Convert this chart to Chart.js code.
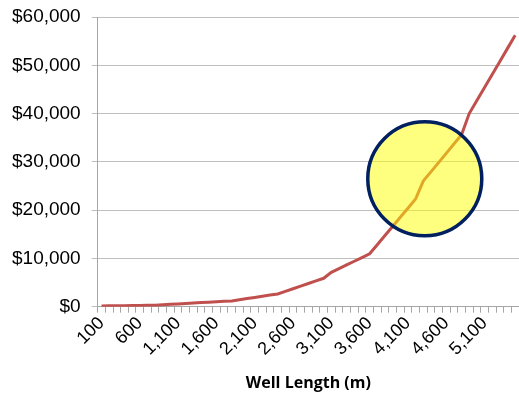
<!DOCTYPE html>
<html>
<head>
<meta charset="utf-8">
<script src="https://cdn.jsdelivr.net/npm/chart.js@4.4.0/dist/chart.umd.min.js"></script>
<style>
    html, body { margin: 0; padding: 0; background: #fff; }
    #wrap { width: 519px; height: 396px; position: relative; }
</style>
</head>
<body>
<div id="wrap"><canvas id="costChart"></canvas></div>
<script>
// well length categories (m)
const wellLengths = [
    100, 200, 300, 400, 500, 600, 700, 800, 900, 1000,
    1100, 1200, 1300, 1400, 1500, 1600, 1700, 1800, 1900, 2000,
    2100, 2200, 2300, 2400, 2500, 2600, 2700, 2800, 2900, 3000,
    3100, 3200, 3300, 3400, 3500, 3600, 3700, 3800, 3900, 4000,
    4100, 4200, 4300, 4400, 4500, 4600, 4700, 4800, 4900, 5000,
    5100, 5200, 5300, 5400, 5500
];

// cost ($)
const costs = [
    150, 170, 190, 210, 230, 250, 270, 300, 390, 480,
    570, 660, 750, 840, 930, 1020, 1110, 1200, 1440, 1680,
    1920, 2160, 2400, 2640, 3180, 3720, 4260, 4800, 5340, 5880,
    7100, 7870, 8640, 9410, 10180, 10950, 12840, 14730, 16620, 18510,
    20400, 22290, 26000, 27920, 29840, 31760, 33680, 35600, 40000, 42700,
    45400, 48100, 50800, 53500, 56200
];

const yTicks = [0, 10000, 20000, 30000, 40000, 50000, 60000];

// highlight circle (in data units + pixel radius)
const highlightIndex = 42.2;
const highlightValue = 26500;

const highlightPlugin = {
    id: 'highlight',
    afterDatasetsDraw(chart) {
        const ctx = chart.ctx;
        const cx = chart.scales.x.getPixelForValue(highlightIndex);
        const cy = chart.scales.y.getPixelForValue(highlightValue);
        ctx.save();
        ctx.beginPath();
        ctx.arc(cx, cy, 57, 0, Math.PI * 2);
        ctx.fillStyle = 'rgba(255, 255, 0, 0.5)';
        ctx.fill();
        ctx.lineWidth = 3.5;
        ctx.strokeStyle = '#002060';
        ctx.stroke();
        ctx.restore();
    }
};

const ctx = document.getElementById('costChart').getContext('2d');
new Chart(ctx, {
    type: 'line',
    data: {
        labels: wellLengths,
        datasets: [{
            data: costs,
            borderColor: '#C0504D',
            borderWidth: 3,
            pointRadius: 0,
            tension: 0,
            fill: false
        }]
    },
    options: {
        responsive: true,
        maintainAspectRatio: false,
        animation: false,
        layout: { padding: { left: 1, right: 0, top: 0, bottom: 3 } },
        plugins: {
            legend: { display: false },
            tooltip: { enabled: false }
        },
        scales: {
            x: {
                offset: true,
                afterFit: function(scale) {
                    // no room needed for the empty last label
                    scale.paddingRight = 0;
                },
                grid: {
                    offset: true,
                    drawOnChartArea: false,
                    drawTicks: true,
                    tickLength: 6,
                    color: '#A6A6A6'
                },
                border: { color: '#A6A6A6' },
                ticks: {
                    autoSkip: false,
                    maxRotation: 45,
                    minRotation: 45,
                    padding: 0,
                    color: '#000',
                    font: { family: 'Liberation Sans', size: 18 },
                    callback: function(value, index) {
                        return index % 5 === 0 ? wellLengths[index].toLocaleString('en-US') : '';
                    }
                },
                title: {
                    display: true,
                    text: 'Well Length (m)',
                    color: '#000',
                    font: { family: 'Open Sans', size: 16, weight: 'bold' },
                    padding: { top: 14, bottom: 0 }
                }
            },
            y: {
                min: 0,
                max: 60000,
                afterFit: function(scale) {
                    scale.paddingTop = 17;
                },
                afterBuildTicks: function(axis) {
                    axis.ticks = yTicks.map(v => ({ value: v }));
                },
                grid: {
                    color: '#BFBFBF',
                    lineWidth: 1,
                    drawTicks: true,
                    tickLength: 6
                },
                border: { color: '#A6A6A6' },
                ticks: {
                    padding: 11,
                    color: '#000',
                    font: { family: 'Liberation Sans', size: 19 },
                    callback: function(value) {
                        return '$' + value.toLocaleString('en-US');
                    }
                }
            }
        }
    },
    plugins: [highlightPlugin]
});
</script>
</body>
</html>
